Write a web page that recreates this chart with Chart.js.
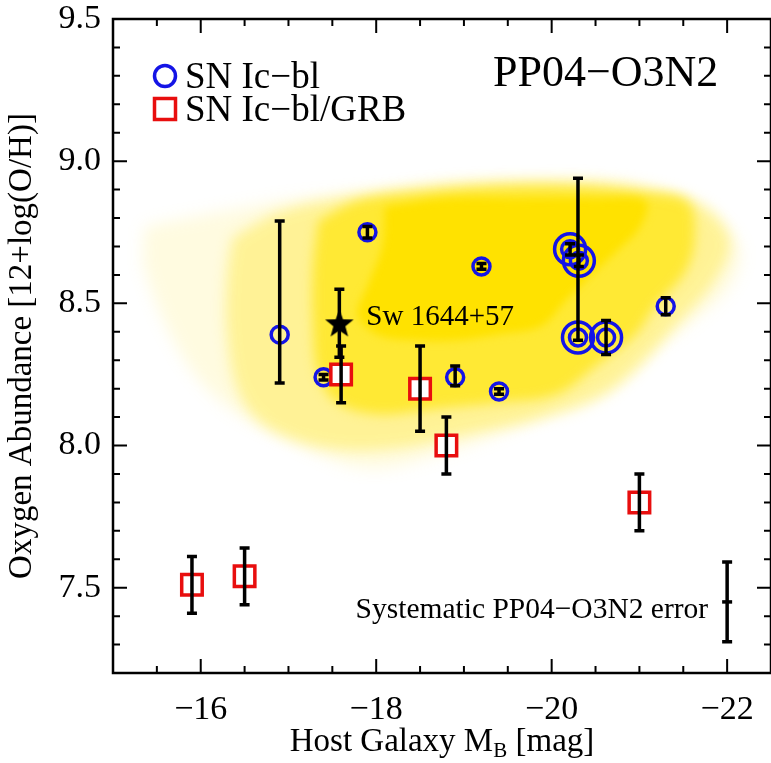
<!DOCTYPE html>
<html>
<head>
<meta charset="utf-8">
<script src="https://cdn.jsdelivr.net/npm/chart.js@4.4.1/dist/chart.umd.min.js"></script>
<style>
  html, body { margin: 0; padding: 0; background: #fff; overflow: hidden; }
  canvas { display: block; }
</style>
</head>
<body>
<canvas id="oh" width="790" height="763"></canvas>
<script>
const xTicks = [-16, -18, -20, -22];
const yTicks = [7.5, 8.0, 8.5, 9.0, 9.5];

// SN Ic-bl hosts (blue circles); ring = 1 for the doubled symbols
const icblX  = [-16.9, -17.9, -17.4, -19.2, -18.9, -19.4, -21.3, -20.21, -20.31, -20.3, -20.62];
const icblY  = [8.39, 8.75, 8.24, 8.63, 8.24, 8.19, 8.49, 8.69, 8.65, 8.38, 8.38];
const icblLo = [8.22, 8.73, 8.23, 8.62, 8.21, 8.18, 8.46, 8.67, 8.63, 8.37, 8.32];
const icblHi = [8.79, 8.77, 8.25, 8.64, 8.28, 8.20, 8.52, 8.71, 8.67, 8.94, 8.44];
const icblRing = [0, 0, 0, 0, 0, 0, 0, 1, 1, 1, 1];

// SN Ic-bl/GRB hosts (red squares)
const grbX  = [-15.9, -16.5, -17.6, -18.5, -18.8, -21.0];
const grbY  = [7.51, 7.54, 8.25, 8.20, 8.00, 7.80];
const grbLo = [7.41, 7.44, 8.15, 8.05, 7.90, 7.70];
const grbHi = [7.61, 7.64, 8.35, 8.35, 8.10, 7.90];

// Sw 1644+57
const swX = [-17.58], swY = [8.43], swLo = [8.31], swHi = [8.55];

// systematic error bar
const sysX = [-22.0], sysY = [7.45], sysLo = [7.31], sysHi = [7.59];

// SDSS galaxy cloud, outlines (faint halo, body, dense part, core)
const haloX = [-15.36, -16.02, -16.95, -17.89, -18.83, -19.77, -20.47, -21.18, -21.73, -22.14, -22.03, -21.52, -21.10, -20.73, -20.16, -19.77, -18.83, -17.89, -16.95, -16.25, -15.78, -15.36];
const haloY = [8.77, 8.81, 8.86, 8.89, 8.92, 8.93, 8.93, 8.88, 8.83, 8.70, 8.56, 8.42, 8.33, 8.22, 8.15, 8.09, 7.98, 7.92, 8.03, 8.15, 8.32, 8.62];
const bodyX = [-16.36, -16.89, -17.56, -18.47, -19.37, -20.28, -21.07, -21.75, -22.03, -21.86, -21.41, -21.01, -20.50, -19.82, -19.03, -18.24, -17.45, -16.77, -16.44, -16.30, -16.30];
const bodyY = [8.73, 8.82, 8.87, 8.91, 8.93, 8.93, 8.91, 8.84, 8.72, 8.58, 8.42, 8.28, 8.16, 8.09, 8.04, 7.99, 7.99, 8.06, 8.18, 8.39, 8.60];
const midX = [-17.34, -17.79, -18.47, -19.37, -20.28, -21.07, -21.55, -21.63, -21.52, -21.18, -20.95, -20.50, -20.05, -19.37, -18.69, -18.02, -17.56, -17.34, -17.28, -17.28];
const midY = [8.79, 8.86, 8.89, 8.91, 8.91, 8.89, 8.86, 8.73, 8.61, 8.49, 8.39, 8.28, 8.18, 8.15, 8.13, 8.11, 8.15, 8.25, 8.42, 8.63];
const coreX = [-18.10, -18.81, -19.60, -20.50, -21.07, -21.01, -20.73, -20.45, -20.16, -19.88, -19.37, -18.92, -18.47, -18.02, -17.79, -17.90, -18.07];
const coreY = [8.84, 8.87, 8.87, 8.87, 8.86, 8.77, 8.68, 8.60, 8.51, 8.42, 8.39, 8.37, 8.37, 8.39, 8.46, 8.56, 8.70];

const F = '"Liberation Serif", "Times New Roman", serif';
const BLUE = 'rgb(20,20,230)';
const RED = 'rgb(232,14,14)';

const pts = (xs, ys) => xs.map((x, i) => ({ x: x, y: ys[i] }));
const closed = (xs, ys) => { const p = pts(xs, ys); p.push(p[0]); return p; };
const pick = (arr, flags) => arr.filter((v, i) => flags[i]);

function starImage(r) {
  const c = document.createElement('canvas');
  c.width = c.height = Math.ceil(2 * r + 2);
  const g = c.getContext('2d');
  const m = c.width / 2;
  g.beginPath();
  for (let k = 0; k < 10; k++) {
    const rr = k % 2 ? r * 0.42 : r;
    const a = -Math.PI / 2 + k * Math.PI / 5;
    g.lineTo(m + rr * Math.cos(a), m + 1 + rr * Math.sin(a));
  }
  g.closePath();
  g.fillStyle = '#000';
  g.fill();
  return c;
}

// blur the cloud fills; must run before the Filler plugin
const softEdges = {
  id: 'softEdges',
  beforeDatasetDraw(chart, args) {
    const b = chart.data.datasets[args.index].blur;
    if (b) { chart.ctx.save(); chart.ctx.filter = 'blur(' + b + 'px)'; }
  },
  afterDatasetDraw(chart, args) {
    if (chart.data.datasets[args.index].blur) chart.ctx.restore();
  }
};
if (Chart.Filler) {
  Chart.unregister(Chart.Filler);
  Chart.register(softEdges, Chart.Filler);
} else {
  Chart.register(softEdges);
}

const errorBars = {
  id: 'errorBars',
  afterDatasetsDraw(chart) {
    const { ctx, scales: { x, y } } = chart;
    ctx.save();
    ctx.strokeStyle = '#000';
    ctx.lineWidth = 3.5;
    chart.data.datasets.forEach(ds => {
      if (!ds.errLo) return;
      ds.data.forEach((p, i) => {
        const px = x.getPixelForValue(p.x);
        const y1 = y.getPixelForValue(ds.errLo[i]);
        const y2 = y.getPixelForValue(ds.errHi[i]);
        ctx.beginPath();
        ctx.moveTo(px, y1); ctx.lineTo(px, y2);
        ctx.moveTo(px - 5, y1); ctx.lineTo(px + 5, y1);
        ctx.moveTo(px - 5, y2); ctx.lineTo(px + 5, y2);
        ctx.stroke();
      });
    });
    ctx.restore();
  }
};

const frame = {
  id: 'frame',
  afterDraw(chart) {
    const { ctx, chartArea: a, scales: { x, y } } = chart;
    ctx.save();
    ctx.strokeStyle = '#000';
    ctx.lineWidth = 2.5;
    ctx.strokeRect(a.left, a.top, a.right - a.left, a.bottom - a.top);
    ctx.lineWidth = 2;
    ctx.beginPath();
    for (let k = Math.round(-x.max * 2); k <= Math.round(-x.min * 2); k++) {
      const px = x.getPixelForValue(-k / 2);
      const len = k % 4 === 0 ? 14 : 7;
      ctx.moveTo(px, a.bottom); ctx.lineTo(px, a.bottom - len);
      ctx.moveTo(px, a.top); ctx.lineTo(px, a.top + len);
    }
    for (let k = Math.round(y.min * 10); k <= Math.round(y.max * 10); k++) {
      const py = y.getPixelForValue(k / 10);
      const len = k % 5 === 0 ? 14 : 7;
      ctx.moveTo(a.left, py); ctx.lineTo(a.left + len, py);
      ctx.moveTo(a.right, py); ctx.lineTo(a.right - len, py);
    }
    ctx.stroke();
    ctx.restore();
  }
};

const labels = {
  id: 'labels',
  afterDraw(chart) {
    const { ctx, chartArea: a, scales: { x, y } } = chart;
    ctx.save();
    ctx.fillStyle = '#000';
    ctx.textBaseline = 'alphabetic';

    // legend
    const lx = a.left + 52;
    ctx.lineWidth = 3.5;
    ctx.strokeStyle = BLUE;
    ctx.beginPath(); ctx.arc(lx, a.top + 57, 10.5, 0, 2 * Math.PI); ctx.stroke();
    ctx.strokeStyle = RED;
    ctx.strokeRect(lx - 10.5, a.top + 79.5, 21, 21);
    ctx.font = '37px ' + F;
    ctx.textAlign = 'left';
    ctx.fillText('SN Ic\u2212bl', lx + 20, a.top + 69);
    ctx.fillText('SN Ic\u2212bl/GRB', lx + 20, a.top + 102);

    // method name
    ctx.font = '44px ' + F;
    ctx.fillText('PP04\u2212O3N2', 493, a.top + 67);

    // object label
    ctx.font = '29px ' + F;
    ctx.fillText('Sw 1644+57', x.getPixelForValue(swX[0]) + 27, y.getPixelForValue(swY[0]) + 2);

    ctx.textAlign = 'right';
    ctx.font = '29.5px ' + F;
    ctx.fillText('Systematic PP04\u2212O3N2 error', x.getPixelForValue(sysX[0]) - 19, y.getPixelForValue(sysY[0]) + 16);

    // x-axis title with subscript
    const big = '33px ' + F, small = '21px ' + F;
    ctx.font = big;
    const t1 = 'Host Galaxy M', t3 = ' [mag]';
    const w1 = ctx.measureText(t1).width, w3 = ctx.measureText(t3).width;
    ctx.font = small;
    const w2 = ctx.measureText('B').width;
    let tx = (a.left + a.right) / 2 - (w1 + w2 + w3) / 2;
    const base = 751;
    ctx.textAlign = 'left';
    ctx.font = big; ctx.fillText(t1, tx, base); tx += w1;
    ctx.font = small; ctx.fillText('B', tx, base + 6); tx += w2;
    ctx.font = big; ctx.fillText(t3, tx, base);
    ctx.restore();
  }
};

const cloud = (label, xs, ys, color, order, blur) => ({
  type: 'line', label: label, data: closed(xs, ys),
  fill: 'shape', backgroundColor: color, borderWidth: 0,
  pointRadius: 0, tension: 0.35, order: order, blur: blur
});

new Chart(document.getElementById('oh'), {
  type: 'scatter',
  data: {
    datasets: [
      cloud('SDSS halo', haloX, haloY, 'rgba(255,232,60,0.16)', 11, 8),
      cloud('SDSS body', bodyX, bodyY, 'rgba(255,230,30,0.38)', 10, 7),
      cloud('SDSS dense', midX, midY, 'rgba(255,228,0,0.65)', 9, 6),
      cloud('SDSS core', coreX, coreY, 'rgb(255,226,0)', 8, 4),
      {
        label: 'SN Ic-bl', data: pts(icblX, icblY), errLo: icblLo, errHi: icblHi,
        pointStyle: 'circle', pointRadius: 8.5, borderWidth: 3.5,
        borderColor: BLUE, backgroundColor: 'rgba(0,0,0,0)', order: 2
      },
      {
        label: 'SN Ic-bl ring', data: pts(pick(icblX, icblRing), pick(icblY, icblRing)),
        pointStyle: 'circle', pointRadius: 15.5, borderWidth: 3.5,
        borderColor: BLUE, backgroundColor: 'rgba(0,0,0,0)', order: 2
      },
      {
        label: 'SN Ic-bl/GRB', data: pts(grbX, grbY), errLo: grbLo, errHi: grbHi,
        pointStyle: 'rect', pointRadius: 14.5, borderWidth: 3.5,
        borderColor: RED, backgroundColor: '#fff', order: 1
      },
      {
        label: 'Sw 1644+57', data: pts(swX, swY), errLo: swLo, errHi: swHi,
        pointStyle: starImage(15), pointRadius: 15, order: 0
      },
      {
        label: 'Systematic', data: pts(sysX, sysY), errLo: sysLo, errHi: sysHi,
        pointStyle: 'line', pointRadius: 5, borderWidth: 3.5, borderColor: '#000', order: 0
      }
    ]
  },
  options: {
    responsive: false,
    animation: false,
    events: [],
    layout: { padding: { top: 10, right: 13, bottom: 0, left: 0 } },
    plugins: {
      legend: { display: false },
      tooltip: { enabled: false }
    },
    scales: {
      x: {
        type: 'linear', min: -22.5, max: -15, reverse: true,
        border: { display: false },
        grid: { display: false, drawTicks: false },
        afterBuildTicks: s => { s.ticks = xTicks.map(v => ({ value: v })); },
        afterFit: s => { s.height = 90; s.paddingLeft = 0; s.paddingRight = 0; },
        ticks: {
          autoSkip: false, maxRotation: 0, padding: 17, color: '#000',
          font: { family: F, size: 34 },
          callback: v => String(v).replace('-', '\u2212')
        }
      },
      y: {
        type: 'linear', min: 7.2, max: 9.5,
        border: { display: false },
        grid: { display: false, drawTicks: false },
        afterBuildTicks: s => { s.ticks = yTicks.map(v => ({ value: v })); },
        afterFit: s => { s.width = 113; s.paddingTop = 0; s.paddingBottom = 0; },
        ticks: {
          autoSkip: false, padding: 12, color: '#000',
          font: { family: F, size: 34 },
          callback: v => v.toFixed(1)
        },
        title: {
          display: true, text: 'Oxygen Abundance [12+log(O/H)]', color: '#000',
          font: { family: F, size: 33 }, padding: { top: 3, bottom: 0 }
        }
      }
    }
  },
  plugins: [errorBars, frame, labels]
});
</script>
</body>
</html>
